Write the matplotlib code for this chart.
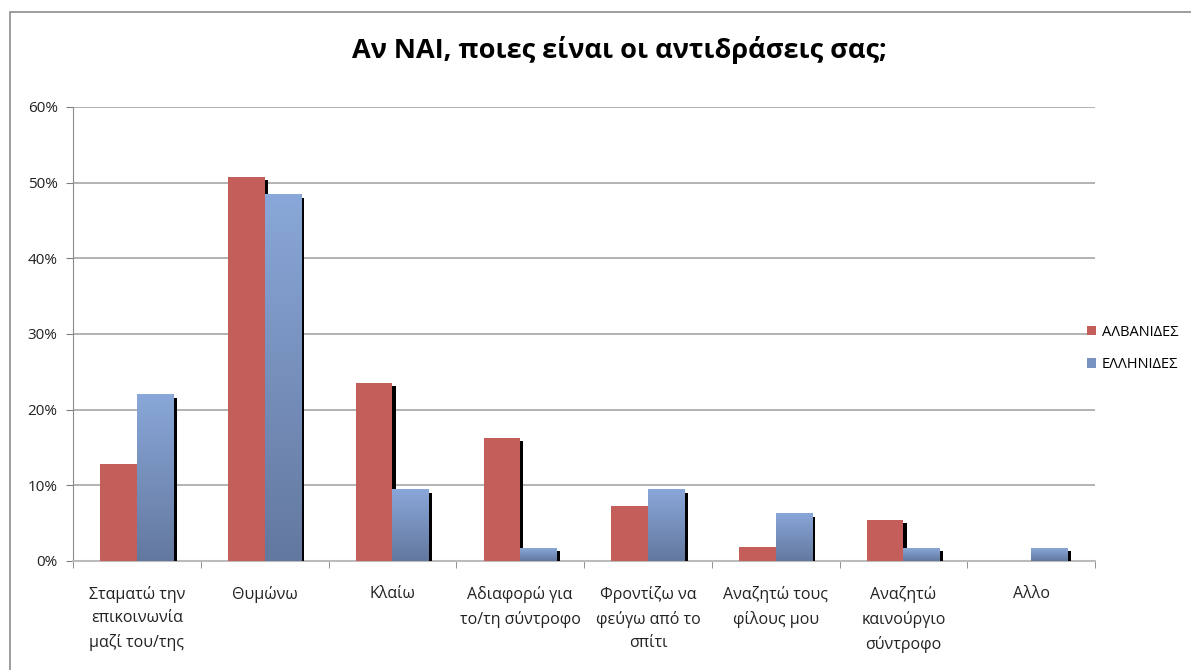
import numpy as np
import matplotlib.pyplot as plt
import matplotlib.patheffects as pe
from matplotlib.patches import Rectangle, Patch
from matplotlib.ticker import PercentFormatter

plt.rcParams['font.family'] = ['Open Sans', 'DejaVu Sans']

categories = ["Σταματώ την\nεπικοινωνία\nμαζί του/της", "Θυμώνω", "Κλαίω",
              "Αδιαφορώ για\nτο/τη σύντροφο", "Φροντίζω να\nφεύγω από το\nσπίτι",
              "Αναζητώ τους\nφίλους μου", "Αναζητώ\nκαινούργιο\nσύντροφο", "Αλλο"]
albanides = [12.8, 50.8, 23.5, 16.3, 7.3, 1.9, 5.4, 0.0]
ellinides = [22.0, 48.4, 9.4, 1.7, 9.4, 6.3, 1.7, 1.7]
series_names = ["ΑΛΒΑΝΙΔΕΣ", "ΕΛΛΗΝΙΔΕΣ"]

red = "#C45E5A"
blue_top = "#89A7D8"
blue_bot = "#63789F"

fig = plt.figure(figsize=(11.91, 6.70), dpi=100)
ax = fig.add_axes([0.0613, 0.1627, 0.8581, 0.6776])

# grey frame of the chart area
fig.patches.append(Rectangle((0.0085, -0.01), 1.2, 0.992, transform=fig.transFigure,
                             fill=False, edgecolor="#8C8C8C", lw=1.2))

x = np.arange(len(categories))
w = 0.286
shadow = [pe.SimplePatchShadow(offset=(2.3, -2.3), shadow_rgbFace="black", alpha=1.0), pe.Normal()]

bars_r = ax.bar(x - w / 2, albanides, w, color=red, zorder=3)
for b in bars_r:
    if b.get_height() > 0:
        b.set_path_effects(shadow)
bars_b = ax.bar(x + w / 2, ellinides, w, color=blue_bot, zorder=4)
for b in bars_b:
    b.set_path_effects(shadow)

# vertical gradient on blue bars
c1 = np.array(plt.matplotlib.colors.to_rgb(blue_top))
c2 = np.array(plt.matplotlib.colors.to_rgb(blue_bot))
t = np.linspace(0, 1, 100)[:, None]
grad = (c1 * (1 - t) + c2 * t)[:, None, :]
for b in bars_b:
    x0, h = b.get_x(), b.get_height()
    ax.imshow(grad, extent=[x0, x0 + b.get_width(), 0, h], aspect='auto',
              zorder=4.5, interpolation='bilinear')

ax.set_xlim(-0.5, len(categories) - 0.5)
ax.set_ylim(0, 60)
ax.set_yticks(np.arange(0, 61, 10))
ax.yaxis.set_major_formatter(PercentFormatter(decimals=0))
ax.grid(axis='y', color="#A6A6A6", lw=1.2, zorder=0)
ax.set_axisbelow(True)

ax.set_xticks(x)
ax.set_xticklabels(categories, fontsize=11.5, linespacing=1.6, color="#222222")
ax.set_xticks(np.arange(-0.5, len(categories)), minor=True)
ax.tick_params(axis='x', which='major', length=0, pad=18)
ax.tick_params(axis='x', which='minor', length=5, color="#808080")
ax.tick_params(axis='y', length=5, color="#808080", labelsize=11, labelcolor="#222222", pad=6)

for s in ['top', 'right']:
    ax.spines[s].set_visible(False)
ax.spines['left'].set_color("#8C8C8C")
ax.spines['bottom'].set_color("#BBBBBB")
ax.spines['bottom'].set_linewidth(1.5)

handles = [Patch(facecolor=red), Patch(facecolor="#7893C0")]
fig.legend(handles, series_names, loc='center left', bbox_to_anchor=(0.902, 0.48),
           frameon=False, fontsize=10.5, handlelength=0.6, handleheight=0.6,
           handletextpad=0.4, labelspacing=1.2)

fig.text(0.52, 0.925, "Αν ΝΑΙ, ποιες είναι οι αντιδράσεις σας;", ha='center', va='center',
         fontsize=19.5, fontweight='bold')

fig.savefig("out.png", dpi=100)
